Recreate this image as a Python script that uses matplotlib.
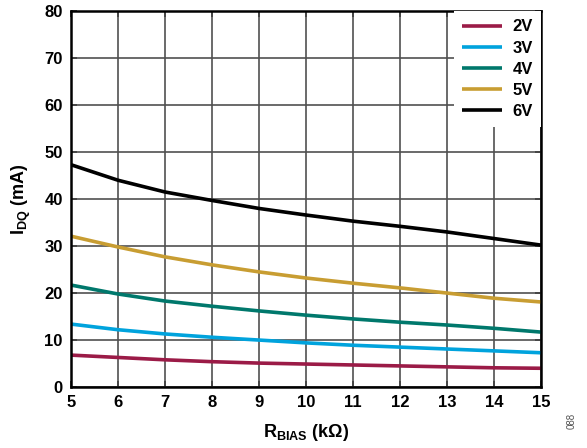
import matplotlib
matplotlib.use("Agg")
import matplotlib.pyplot as plt

plt.rcParams['font.family'] = ['Liberation Sans', 'DejaVu Sans']
plt.rcParams['font.weight'] = 'bold'
plt.rcParams['mathtext.fontset'] = 'custom'
plt.rcParams['mathtext.rm'] = 'Liberation Sans:bold'
plt.rcParams['mathtext.it'] = 'Liberation Sans:bold'
plt.rcParams['mathtext.bf'] = 'Liberation Sans:bold'

rbias = [5, 6, 7, 8, 9, 10, 11, 12, 13, 14, 15]
i_2v = [6.8, 6.3, 5.8, 5.4, 5.1, 4.9, 4.7, 4.5, 4.3, 4.1, 4.0]
i_3v = [13.4, 12.2, 11.3, 10.6, 10.0, 9.4, 8.9, 8.5, 8.1, 7.7, 7.3]
i_4v = [21.7, 19.8, 18.3, 17.2, 16.2, 15.3, 14.5, 13.8, 13.2, 12.5, 11.7]
i_5v = [32.1, 29.8, 27.7, 26.0, 24.5, 23.2, 22.1, 21.1, 20.0, 18.9, 18.1]
i_6v = [47.3, 44.0, 41.5, 39.7, 38.0, 36.6, 35.3, 34.2, 33.0, 31.6, 30.2]
labels = ['2V', '3V', '4V', '5V', '6V']
colors = ['#9B1B47', '#00A3DD', '#00786C', '#C89D32', '#000000']
xticks = [5, 6, 7, 8, 9, 10, 11, 12, 13, 14, 15]
yticks = [0, 10, 20, 30, 40, 50, 60, 70, 80]

fig = plt.figure(figsize=(5.87, 4.48), dpi=100)
ax = fig.add_axes([0.121, 0.136, 0.8006, 0.8394])

for ys, lab, c in zip([i_2v, i_3v, i_4v, i_5v, i_6v], labels, colors):
    ax.plot(rbias, ys, color=c, lw=2.6, label=lab, solid_capstyle='butt')

ax.set_xlim(5, 15)
ax.set_ylim(0, 80)
ax.set_xticks(xticks)
ax.set_yticks(yticks)
ax.grid(True, color='#505050', lw=1.2)
ax.set_axisbelow(True)
for s in ax.spines.values():
    s.set_linewidth(1.8)
    s.set_color('black')
ax.tick_params(direction='in', length=4, width=1.2, top=True, right=True,
               labelsize=12, pad=6, color='#404040')
for t in ax.get_xticklabels() + ax.get_yticklabels():
    t.set_fontweight('bold')

ax.set_xlabel(r'$\mathrm{R_{BIAS}}$ (kΩ)', fontsize=13, fontweight='bold', labelpad=8)
ax.set_ylabel(r'$\mathrm{I_{DQ}}$ (mA)', fontsize=13, fontweight='bold', labelpad=8)

leg = ax.legend(loc='upper right', frameon=True, fancybox=False, handlelength=2.4,
                fontsize=12, borderaxespad=0.0, labelspacing=0.37, handletextpad=0.6,
                borderpad=0.5)
leg.get_frame().set_facecolor('white')
leg.get_frame().set_edgecolor('none')
leg.get_frame().set_alpha(1.0)
for t in leg.get_texts():
    t.set_fontweight('bold')

fig.text(0.974, 0.06, '088', rotation=90, fontsize=7, fontweight='normal',
         color='#555555', ha='center', va='center')

fig.savefig('out.png', dpi=100)
